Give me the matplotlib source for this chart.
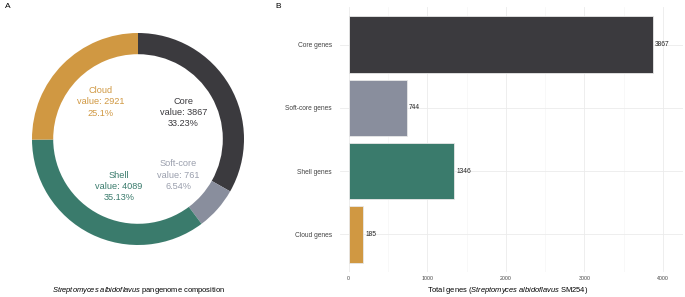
import numpy as np
import matplotlib
matplotlib.use("Agg")
import matplotlib.pyplot as plt
from matplotlib.ticker import MultipleLocator

plt.rcParams['font.family'] = ['Liberation Sans', 'DejaVu Sans']
plt.rcParams['mathtext.fontset'] = 'custom'
plt.rcParams['mathtext.rm'] = 'Liberation Sans'
plt.rcParams['mathtext.it'] = 'Liberation Sans:italic'

# donut data
pie_names = ['Core', 'Soft-core', 'Shell', 'Cloud']
pie_values = [3867, 761, 4089, 2921]
pie_pct = ['33.23%', '6.54%', '35.13%', '25.1%']
pie_colors = ['#3b3a3e', '#898e9d', '#3a7b6c', '#d09842']
pie_text_colors = ['#3b3a3e', '#9a9fad', '#3a7b6c', '#d09842']

# bar data
bar_names = ['Core genes', 'Soft-core genes', 'Shell genes', 'Cloud genes']
bar_values = [3867, 744, 1346, 185]
bar_colors = ['#3b3a3e', '#898e9d', '#3a7b6c', '#d09842']

W, H = 685, 297
fig = plt.figure(figsize=(W / 100, H / 100), dpi=100)

def box(x0, y0, x1, y1):
    # pixel box (top-left origin) -> figure fraction
    return [x0 / W, 1 - y1 / H, (x1 - x0) / W, (y1 - y0) / H]

# ---- panel A: donut
ax1 = fig.add_axes(box(32, 33, 244, 245))
ax1.pie(pie_values, colors=pie_colors, startangle=90, counterclock=False,
        radius=1, wedgeprops=dict(width=0.2, edgecolor='none'))
ax1.set_xlim(-1, 1)
ax1.set_ylim(-1, 1)
ax1.set_aspect('equal')
ax1.axis('off')

label_pos = [(0.43, 0.25), (0.38, -0.34), (-0.18, -0.45), (-0.35, 0.35)]
for name, val, pct, col, (lx, ly) in zip(pie_names, pie_values, pie_pct,
                                         pie_text_colors, label_pos):
    ax1.text(lx, ly, f"{name}\nvalue: {val}\n{pct}", color=col, fontsize=6.6,
             ha='center', va='center', linespacing=1.3)

fig.text(138 / W, 1 - 291 / H,
         r"$\it{Streptomyces\ albidoflavus}$ pangenome composition",
         ha='center', va='center', fontsize=5.4)

# ---- panel B: bars
ax2 = fig.add_axes(box(340, 7, 683, 272))
y = np.arange(len(bar_names))
ax2.barh(y, bar_values, height=0.9, color=bar_colors, edgecolor='#e8e8e8',
         linewidth=0.6, zorder=2)
for yi, v in zip(y, bar_values):
    ax2.text(v + 25, yi, str(v), va='center', ha='left', fontsize=4.8,
             color='#222222')
ax2.set_ylim(3.6, -0.6)
ax2.set_xlim(-110, 4255)
ax2.set_yticks(y)
ax2.set_yticklabels(bar_names)
ax2.xaxis.set_major_locator(MultipleLocator(1000))
ax2.xaxis.set_minor_locator(MultipleLocator(500))
ax2.grid(which='major', color='#ebebeb', linewidth=0.6, zorder=0)
ax2.grid(which='minor', axis='x', color='#f3f3f3', linewidth=0.4, zorder=0)
ax2.set_axisbelow(True)
for s in ax2.spines.values():
    s.set_visible(False)
ax2.tick_params(axis='both', which='both', length=0, labelsize=4.8,
                labelcolor='#444444')
ax2.tick_params(axis='y', pad=6)
ax2.tick_params(axis='x', pad=3, labelsize=3.8)

fig.text(508 / W, 1 - 291 / H,
         r"Total genes ($\it{Streptomyces\ albidoflavus}$ SM254)",
         ha='center', va='center', fontsize=5.4)

fig.text(5 / W, 1 - 6 / H, 'A', fontsize=6, ha='left', va='center')
fig.text(275 / W, 1 - 6 / H, 'B', fontsize=6, ha='left', va='center')

fig.savefig('out.png', dpi=100)
